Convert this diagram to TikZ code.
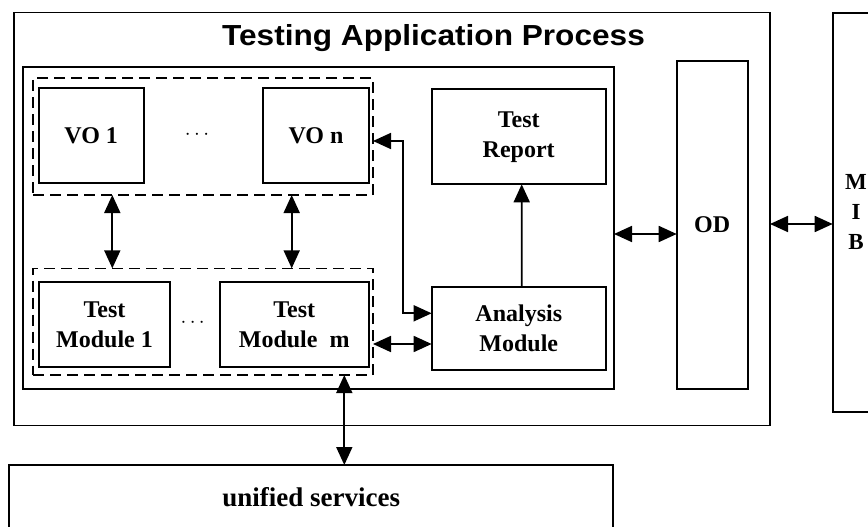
\documentclass[tikz,border=0pt]{standalone}
\usepackage{fontspec}
\setmainfont{Liberation Serif}
\newfontfamily\headfont{Liberation Sans}
\usetikzlibrary{arrows.meta}

\tikzset{
  blk/.style={draw, line width=1.8pt, inner sep=0pt, outer sep=0pt,
    font=\bfseries\fontsize{24}{30}\selectfont, align=center},
  grp/.style={draw, line width=1.5pt, dash pattern=on 11pt off 6pt,
    inner sep=0pt, outer sep=0pt},
  dotsym/.style={font=\fontsize{22}{22}\selectfont},
  link/.style={line width=1.8pt},
  >={Triangle[length=18pt,width=16pt]}
}

\begin{document}
\begin{tikzpicture}[x=1pt,y=-1pt]
  \useasboundingbox (0,0) rectangle (868,527);
  \clip (0,0) rectangle (868,527);

  \node [blk, minimum width=756pt, minimum height=413pt] (proc) at (392,219) {};
  \node [font=\headfont\bfseries\fontsize{29}{30}\selectfont, anchor=base] (title) at (433.5,46) {\scalebox{1.09}[1]{Testing Application Process}};
  \node [blk, minimum width=591pt, minimum height=322.6pt] (core) at (318.5,228) {};

  \node [grp, minimum width=340pt, minimum height=117pt] (vogrp) at (203,136.5) {};
  \node [blk, minimum width=105pt, minimum height=95.6pt] (vo1) at (91.2,135.5) {VO 1};
  \node [dotsym] (vodots) at (197,135) {$\cdots$};
  \node [blk, minimum width=105.4pt, minimum height=95.6pt] (von) at (316,135.5) {VO n};

  \node [grp, minimum width=340pt, minimum height=106.7pt] (tmgrp) at (203,321.7) {};
  \node [blk, minimum width=131.6pt, minimum height=85pt] (tm1) at (104.5,324.8) {Test\\Module 1};
  \node [dotsym] (tmdots) at (192.7,323) {$\cdots$};
  \node [blk, minimum width=149pt, minimum height=85pt] (tmm) at (294.2,324.8) {Test\\Module\ \ m};

  \node [blk, minimum width=174pt, minimum height=95pt] (report) at (518.7,136.8) {Test\\Report};
  \node [blk, minimum width=174.3pt, minimum height=83.3pt] (analysis) at (518.8,328.3) {Analysis\\Module};

  \node [blk, minimum width=71pt, minimum height=328.3pt] (od) at (712.2,224.8) {OD};
  \node [blk, minimum width=46.6pt, minimum height=398.4pt, font=\bfseries\fontsize{23}{30}\selectfont] (mib) at (856,212.5) {M\\I\\B};

  \node [blk, minimum width=604.3pt, minimum height=65pt, font=\bfseries\fontsize{27}{30}\selectfont] (unified) at (311.2,497.5) {unified services};

  \draw [link, <->] ([xshift=-90.7pt]vogrp.south) -- ([xshift=-90.7pt]tmgrp.north);
  \draw [link, <->] ([xshift=88.7pt]vogrp.south) -- ([xshift=88.7pt]tmgrp.north);
  \draw [link, <->] ([yshift=-4.5pt]vogrp.east) -| ([xshift=-28.4pt,yshift=15pt]analysis.west) -- ([yshift=15pt]analysis.west);
  \draw [link, <->] ([yshift=-22.3pt]tmgrp.east) -- ([yshift=-22.3pt]tmgrp.east -| analysis.west);
  \draw [link, ->] ([xshift=3pt]analysis.north) -- ([xshift=3pt]report.south);
  \draw [link, <->] ([yshift=-6pt]core.east) -- ([yshift=-6pt]core.east -| od.west);
  \draw [link, <->] ([yshift=-5pt]proc.east) -- ([yshift=-5pt]proc.east -| mib.west);
  \draw [link, <->] ([xshift=141.3pt]tmgrp.south) -- ([xshift=141.3pt]tmgrp.south |- unified.north);
\end{tikzpicture}
\end{document}
